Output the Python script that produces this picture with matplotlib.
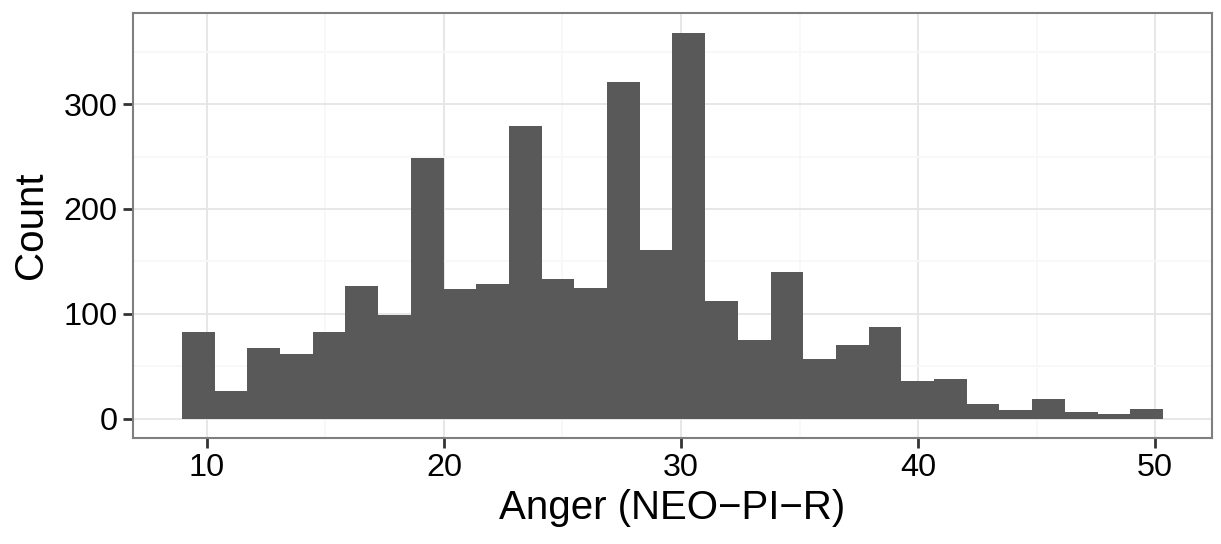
import matplotlib
matplotlib.use("Agg")
from matplotlib import pyplot as plt
from matplotlib.ticker import MultipleLocator
import numpy as np

# histogram counts, 30 bins
counts = [83, 26, 67, 62, 83, 127, 99, 249, 124, 128,
          279, 133, 125, 321, 161, 368, 112, 75, 140, 57,
          70, 87, 36, 38, 14, 8, 19, 6, 4, 9]
bin_start = 8.95
bin_width = 40 / 29
x_ticks = [10, 20, 30, 40, 50]
y_ticks = [0, 100, 200, 300]
x_title = "Anger (NEO\u2212PI\u2212R)"
y_title = "Count"

plt.rcParams['font.family'] = ['Liberation Sans', 'DejaVu Sans']

edges = bin_start + bin_width * np.arange(len(counts) + 1)

fig = plt.figure(figsize=(12.21, 5.44), dpi=100, facecolor="white")
ax = fig.add_axes([0.1089, 0.1949, 0.8837, 0.7803])

ax.bar(edges[:-1], counts, width=bin_width, align="edge",
       color="#595959", linewidth=0, zorder=2)

# ggplot style 5% expansion
span = edges[-1] - edges[0]
ax.set_xlim(edges[0] - 0.05 * span, edges[-1] + 0.05 * span)
ymax = max(counts)
ax.set_ylim(-0.05 * ymax, ymax * 1.05)

ax.set_xticks(x_ticks)
ax.set_yticks(y_ticks)
ax.xaxis.set_minor_locator(MultipleLocator(5))
ax.yaxis.set_minor_locator(MultipleLocator(50))
ax.grid(which="major", color="#e5e5e5", linewidth=1.3, zorder=0)
ax.grid(which="minor", color="#f8f8f8", linewidth=1.3, zorder=0)
ax.set_axisbelow(True)

for s in ax.spines.values():
    s.set_color("#7f7f7f")
    s.set_linewidth(1.5)

ax.tick_params(which="major", length=7, width=2, color="#333333",
               labelsize=23.3, labelcolor="black", pad=4)
ax.tick_params(which="minor", length=0)

ax.set_xlabel(x_title, fontsize=29, labelpad=4)
ax.set_ylabel(y_title, fontsize=29, labelpad=10)

fig.savefig("out.png", dpi=100, facecolor="white")
